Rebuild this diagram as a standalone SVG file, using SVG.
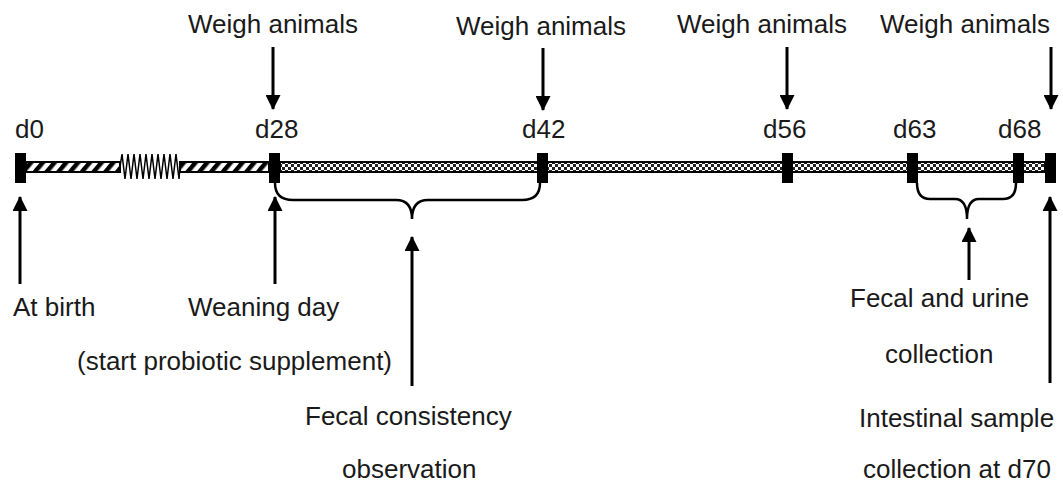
<svg xmlns="http://www.w3.org/2000/svg" width="1063" height="486" viewBox="0 0 1063 486">
<style>
.t{font-family:"Liberation Sans",Arial,sans-serif;font-size:26px;fill:#1a1a1a}
.m{fill:#000}
.arr{stroke:#000;stroke-width:3;fill:none;marker-end:url(#ah)}
.br{stroke:#000;stroke-width:2.5;fill:none}
.bar{stroke:#000;stroke-width:2}
</style>
<defs>
<marker id="ah" viewBox="0 0 16 16" refX="15" refY="8" markerWidth="16" markerHeight="15" markerUnits="userSpaceOnUse" orient="auto">
<path d="M0,0 L16,8 L0,16 z" fill="#000"/>
</marker>
<pattern id="hatch" patternUnits="userSpaceOnUse" width="9" height="9" patternTransform="rotate(40)">
<rect width="9" height="9" fill="#fff"/>
<rect width="4.5" height="9" fill="#000"/>
</pattern>
<pattern id="check" patternUnits="userSpaceOnUse" x="0" y="164" width="6" height="6">
<rect width="6" height="6" fill="#222"/>
<rect x="0" y="0" width="3" height="3" fill="#fff"/>
<rect x="3" y="3" width="3" height="3" fill="#fff"/>
</pattern>
</defs>

<g id="timeline">
<rect class="bar" x="26" y="162" width="94" height="10" fill="url(#hatch)"/>
<rect class="bar" x="180" y="162" width="89" height="10" fill="url(#hatch)"/>
<rect class="bar" x="280" y="162" width="765" height="10" fill="url(#check)"/>
<path d="M120,167 L122,154 L125,179 L128,154 L131,179 L134,154 L137,179 L140,154 L143,179 L146,154 L149,179 L152,154 L155,179 L158,154 L161,179 L164,154 L167,179 L170,154 L173,179 L176,154 L179,179 L180,167" stroke="#000" stroke-width="1.5" fill="none"/>
</g>

<g id="node-d0"><rect class="m" x="15" y="153" width="11" height="30"/><text class="t" x="15" y="138">d0</text></g>
<g id="node-d28"><rect class="m" x="269" y="153" width="11" height="30"/><text class="t" x="255" y="138">d28</text></g>
<g id="node-d42"><rect class="m" x="537" y="153" width="11" height="30"/><text class="t" x="522" y="138">d42</text></g>
<g id="node-d56"><rect class="m" x="782" y="153" width="11" height="30"/><text class="t" x="763" y="138">d56</text></g>
<g id="node-d63"><rect class="m" x="907" y="153" width="11" height="30"/><text class="t" x="893" y="138">d63</text></g>
<g id="node-d68"><rect class="m" x="1013" y="153" width="11" height="30"/><text class="t" x="998" y="138">d68</text></g>
<g id="node-d70"><rect class="m" x="1045" y="153" width="11" height="30"/></g>

<g id="labels">
<text class="t" x="273" y="33" text-anchor="middle">Weigh animals</text>
<text class="t" x="541" y="35" text-anchor="middle">Weigh animals</text>
<text class="t" x="762" y="33" text-anchor="middle">Weigh animals</text>
<text class="t" x="965" y="33" text-anchor="middle">Weigh animals</text>
<text class="t" x="13" y="316">At birth</text>
<text class="t" x="188" y="316">Weaning day</text>
<text class="t" x="77" y="370">(start probiotic supplement)</text>
<text class="t" x="305" y="425">Fecal consistency</text>
<text class="t" x="342" y="478">observation</text>
<text class="t" x="850" y="307">Fecal and urine</text>
<text class="t" x="885" y="363">collection</text>
<text class="t" x="859" y="427">Intestinal sample</text>
<text class="t" x="863" y="478">collection at d70</text>
</g>

<g id="connectors">
<path class="br" d="M275,183 Q275,200 293,200 L396,200 Q412,200 412,219 Q412,200 428,200 L522,200 Q540,200 540,183"/>
<path class="br" d="M917,183 Q917,199 930,199 L955,199 Q967,199 967,219 Q967,199 979,199 L1003,199 Q1016,199 1016,183"/>
<path class="arr" d="M273,47 L273,109"/>
<path class="arr" d="M543,48 L543,110"/>
<path class="arr" d="M787,47 L787,109"/>
<path class="arr" d="M1051,47 L1051,109"/>
<path class="arr" d="M20,284 L20,197"/>
<path class="arr" d="M275,284 L275,197"/>
<path class="arr" d="M412,386 L412,237"/>
<path class="arr" d="M969,280 L969,228"/>
<path class="arr" d="M1050,383 L1050,197"/>
</g>
</svg>
